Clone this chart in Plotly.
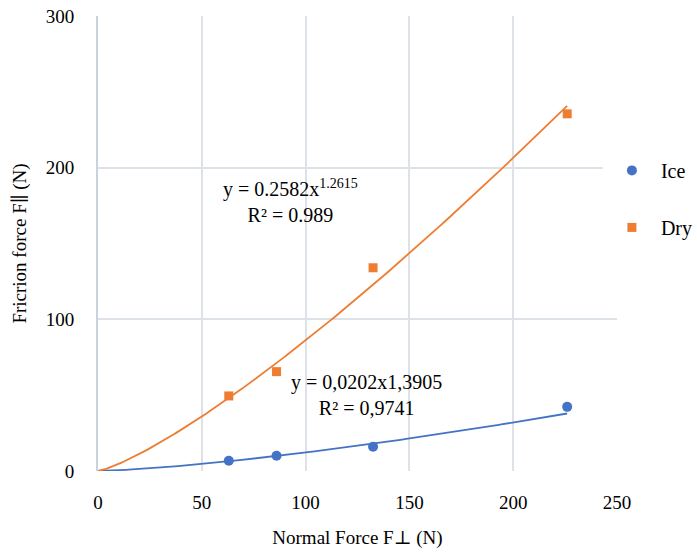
import numpy as np
import plotly.graph_objects as go

# Data
normal_force = [63, 86, 132.5, 226]
ice_friction = [6.8, 10, 16, 42.3]
dry_friction = [49.5, 65.5, 134, 235.5]

# Power-law trendline coefficients shown on chart
ice_coef = [0.0202, 1.3905]
dry_coef = [0.2582, 1.2615]

x_ticks = [0, 50, 100, 150, 200, 250]
y_ticks = [0, 100, 200, 300]

BLUE = "#4472C4"
ORANGE = "#ED7D31"
FONT = "'Liberation Serif', 'Times New Roman', Tinos, 'DejaVu Serif', serif"

xs = np.linspace(0, max(normal_force), 200)

fig = go.Figure()

fig.add_trace(go.Scatter(x=xs, y=ice_coef[0] * xs ** ice_coef[1], mode="lines",
                         line=dict(color=BLUE, width=1.8), showlegend=False, hoverinfo="skip"))
fig.add_trace(go.Scatter(x=xs, y=dry_coef[0] * xs ** dry_coef[1], mode="lines",
                         line=dict(color=ORANGE, width=1.8), showlegend=False, hoverinfo="skip"))

fig.add_trace(go.Scatter(x=normal_force, y=ice_friction, mode="markers", name="Ice",
                         legendgroup="ice",
                         marker=dict(color=BLUE, size=10, symbol="circle")))
fig.add_trace(go.Scatter(x=normal_force, y=dry_friction, mode="markers", name="Dry",
                         legendgroup="dry",
                         marker=dict(color=ORANGE, size=9, symbol="square")))

fig.update_layout(
    width=697, height=556,
    margin=dict(l=98, r=80, t=16, b=85, autoexpand=False),
    paper_bgcolor="white", plot_bgcolor="white",
    font=dict(family=FONT, size=19, color="black"),
    legend=dict(xref="container", x=0.865, y=0.598, xanchor="left", yanchor="middle",
                traceorder="grouped", tracegroupgap=28,
                font=dict(family=FONT, size=20), itemwidth=48),
    xaxis=dict(range=[0, 250], tickvals=x_ticks, showgrid=True, gridcolor="#DDE1E8",
               gridwidth=1.5, zeroline=False, showline=False, ticks="",
               ticklabelstandoff=18, automargin=False,
               title=dict(text="Normal Force F⊥ (N)", font=dict(family=FONT, size=19), standoff=18)),
    yaxis=dict(range=[0, 300], tickvals=y_ticks, showgrid=True, gridcolor="#DDE1E8",
               gridwidth=1.5, zeroline=False, showline=True, linecolor="#C9D2DF", linewidth=2,
               ticks="", ticklabelstandoff=18, automargin=False,
               title=dict(text="Fricrion force F∥ (N)", font=dict(family=FONT, size=19), standoff=14)),
)

fig.add_annotation(x=92.5, y=178, xref="x", yref="y", showarrow=False,
                   text="y = 0.2582x<sup>1.2615</sup><br>R² = 0.989", align="center",
                   font=dict(family=FONT, size=20))
fig.add_annotation(x=129.5, y=50, xref="x", yref="y", showarrow=False,
                   text="y = 0,0202x1,3905<br>R² = 0,9741", align="center",
                   font=dict(family=FONT, size=20))

fig.write_html("out.html")
